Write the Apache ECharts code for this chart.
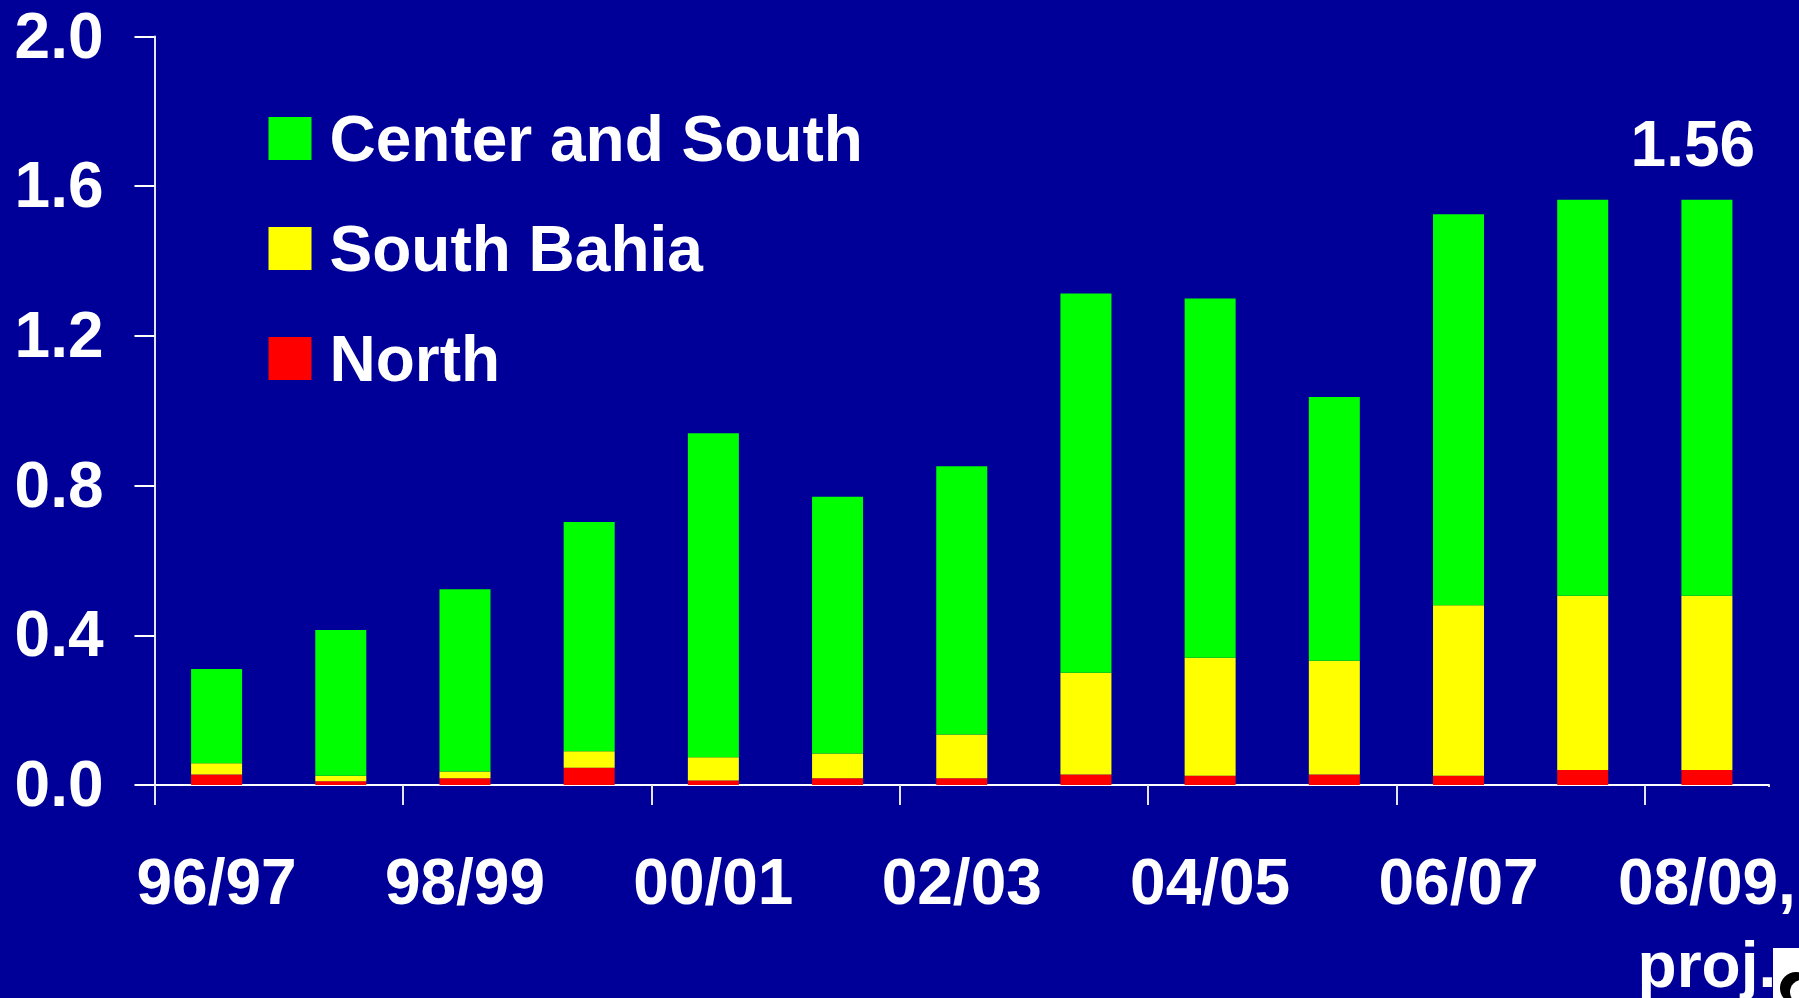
<!DOCTYPE html>
<html>
<head>
<meta charset="utf-8">
<style>html,body{margin:0;padding:0;background:#000099}#c{width:1799px;height:998px}</style>
<script src="https://cdn.jsdelivr.net/npm/echarts@6/dist/echarts.min.js"></script>
</head>
<body>
<div id="c"></div>
<script>
const categories = ['96/97','97/98','98/99','99/00','00/01','01/02','02/03','03/04','04/05','05/06','06/07','07/08','08/09,\nproj.'];
const north = [0.028,0.010,0.018,0.046,0.012,0.018,0.018,0.028,0.025,0.028,0.025,0.040,0.040];
const southBahia = [0.030,0.015,0.018,0.044,0.062,0.066,0.117,0.272,0.315,0.304,0.455,0.466,0.466];
const centerSouth = [0.252,0.389,0.487,0.613,0.866,0.686,0.717,1.013,0.960,0.705,1.045,1.058,1.058];
const yRange = {min:0,max:2,interval:0.4};
const totalLabel = '1.56';
const FONT = '"Liberation Sans", Arial, sans-serif';
const WHITE = '#ffffff';
const BG = '#000099';

function bar(name,color,data){
  return {name,type:'bar',stack:'t',barWidth:51,data,
    itemStyle:{color},emphasis:{disabled:true},animation:false};
}
const greenSeries = bar('Center and South','#00ff00',centerSouth.map((v,i)=> i===12 ? {
  value:v,
  label:{show:true,position:'top',distance:19,offset:[-14,0],formatter:totalLabel,
    color:WHITE,fontFamily:FONT,fontWeight:'bold',fontSize:64}
} : v));

const chart = echarts.init(document.getElementById('c'),null,{renderer:'canvas'});
chart.setOption({
  backgroundColor:BG,
  animation:false,
  grid:{left:154.5,right:30,top:36.5,bottom:213,containLabel:false,outerBoundsMode:'none'},
  legend:{
    orient:'vertical',left:263.5,top:97,itemWidth:43,itemHeight:43,itemGap:37,icon:'rect',
    selectedMode:false,
    data:['Center and South','South Bahia','North'],
    formatter:n=>'{a|'+n+'}',
    textStyle:{color:WHITE,fontFamily:FONT,fontWeight:'bold',fontSize:64,
      rich:{a:{color:WHITE,fontFamily:FONT,fontWeight:'bold',fontSize:64,lineHeight:64,padding:[9,0,0,13]}}}
  },
  xAxis:{
    type:'category',data:categories,boundaryGap:true,
    axisLine:{lineStyle:{color:WHITE,width:2}},
    axisTick:{show:true,interval:1,length:20,alignWithLabel:false,lineStyle:{color:'#e4e4f4',width:2}},
    axisLabel:{interval:1,margin:60,color:WHITE,fontFamily:FONT,fontWeight:'bold',fontSize:64,lineHeight:83,hideOverlap:false}
  },
  yAxis:{
    type:'value',min:yRange.min,max:yRange.max,interval:yRange.interval,
    axisLine:{show:true,lineStyle:{color:'#e4e4f4',width:2}},
    axisTick:{show:true,length:20,lineStyle:{color:WHITE,width:2}},
    splitLine:{show:false},
    axisLabel:{margin:51,verticalAlign:'top',lineHeight:7,color:WHITE,fontFamily:FONT,fontWeight:'bold',fontSize:64,formatter:v=>v.toFixed(1)}
  },
  series:[bar('North','#ff0000',north),bar('South Bahia','#ffff00',southBahia),greenSeries],
  graphic:[
    {type:'rect',shape:{x:1764,y:787,width:12,height:24},style:{fill:BG},z:10},
    {type:'rect',shape:{x:1773,y:948,width:26,height:50},style:{fill:'#ffffff'},z:10},
    {type:'circle',shape:{cx:1796,cy:988,r:16},style:{fill:'#000000'},z:11},
    {type:'circle',shape:{cx:1802,cy:992,r:12},style:{fill:'#ffffff'},z:12}
  ]
});
</script>
</body>
</html>
